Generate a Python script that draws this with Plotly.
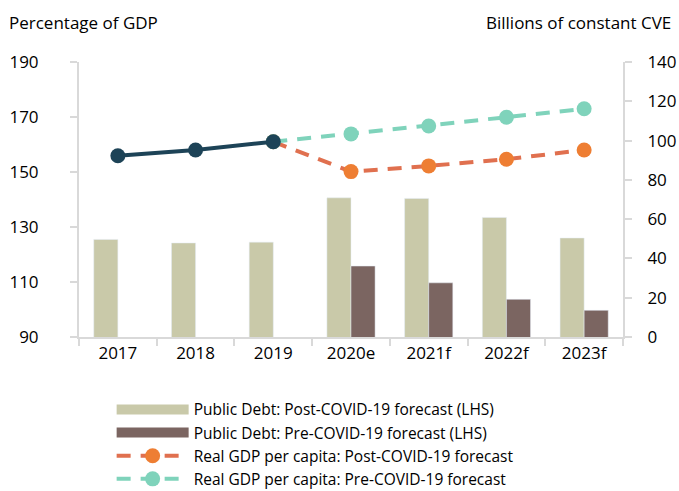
import plotly.graph_objects as go

categories = ["2017", "2018", "2019", "2020e", "2021f", "2022f", "2023f"]
debt_post = [125.5, 124.2, 124.5, 140.6, 140.4, 133.5, 126.0]
debt_pre = [None, None, None, 115.8, 109.7, 103.7, 99.7]
gdp_actual = [92.3, 95.2, 99.4, None, None, None, None]
gdp_post = [None, None, 99.4, 84.2, 87.1, 90.5, 95.2]
gdp_pre = [None, None, 99.4, 103.4, 107.4, 111.9, 116.2]

names = ["Public Debt: Post-COVID-19 forecast (LHS)",
         "Public Debt: Pre-COVID-19 forecast (LHS)",
         "Real GDP per capita: Post-COVID-19 forecast",
         "Real GDP per capita: Pre-COVID-19 forecast"]

FONT = "Open Sans"
C_POST_BAR = "#C9C9A9"
C_PRE_BAR = "#7B6561"

fig = go.Figure()
fig.add_trace(go.Bar(x=categories, y=debt_post, name=names[0], showlegend=False,
                     marker=dict(color=C_POST_BAR), yaxis="y"))
fig.add_trace(go.Bar(x=categories, y=debt_pre, name=names[1], showlegend=False,
                     marker=dict(color=C_PRE_BAR), yaxis="y"))
# legend proxies for bars (wide rectangles)
fig.add_trace(go.Scatter(x=[None], y=[None], name=names[0], mode="lines", legendrank=1,
                         line=dict(color=C_POST_BAR, width=14)))
fig.add_trace(go.Scatter(x=[None], y=[None], name=names[1], mode="lines", legendrank=2,
                         line=dict(color=C_PRE_BAR, width=14)))
fig.add_trace(go.Scatter(x=categories, y=gdp_post, name=names[2], legendrank=3,
                         mode="lines+markers", yaxis="y2",
                         line=dict(color="#E0704F", width=4, dash="14px,10px"),
                         marker=dict(color="#EE7E33", size=15)))
fig.add_trace(go.Scatter(x=categories, y=gdp_pre, name=names[3], legendrank=4,
                         mode="lines+markers", yaxis="y2",
                         line=dict(color="#7FD3BB", width=4, dash="14px,10px"),
                         marker=dict(color="#7FD3BB", size=15)))
fig.add_trace(go.Scatter(x=categories, y=gdp_actual, name="Real GDP per capita",
                         mode="lines+markers", yaxis="y2", showlegend=False,
                         line=dict(color="#1D4357", width=4),
                         marker=dict(color="#1D4357", size=15)))

axis_common = dict(showline=True, linecolor="#D9D9D9", linewidth=2, ticks="outside",
                   ticklen=7, tickcolor="#D9D9D9", tickwidth=2, showgrid=False,
                   tickfont=dict(size=17))

fig.update_layout(
    width=679, height=491,
    margin=dict(l=79, r=56, t=62, b=154, autoexpand=False),
    paper_bgcolor="white", plot_bgcolor="white",
    font=dict(family=FONT, size=17, color="#000000"),
    barmode="group", bargap=0.38, bargroupgap=0,
    showlegend=True,
    legend=dict(x=0.06, y=-0.203, xanchor="left", yanchor="top",
                font=dict(size=15.5), traceorder="normal", itemwidth=72,
                tracegroupgap=0, bgcolor="rgba(0,0,0,0)"),
    xaxis=dict(type="category", tickson="boundaries", **axis_common),
    yaxis=dict(range=[90, 190], tickvals=[90, 110, 130, 150, 170, 190],
               zeroline=False, ticklabelstandoff=28, **axis_common),
    yaxis2=dict(range=[0, 140], tickvals=[0, 20, 40, 60, 80, 100, 120, 140],
                overlaying="y", side="right", zeroline=False, ticklabelstandoff=12,
                **axis_common),
    annotations=[
        dict(text="Percentage of GDP", xref="paper", yref="paper", x=-0.133, y=1.145,
             xanchor="left", yanchor="middle", showarrow=False, font=dict(size=17)),
        dict(text="Billions of constant CVE", xref="paper", yref="paper", x=1.092, y=1.145,
             xanchor="right", yanchor="middle", showarrow=False, font=dict(size=17)),
    ],
)

fig.write_html("out.html")
